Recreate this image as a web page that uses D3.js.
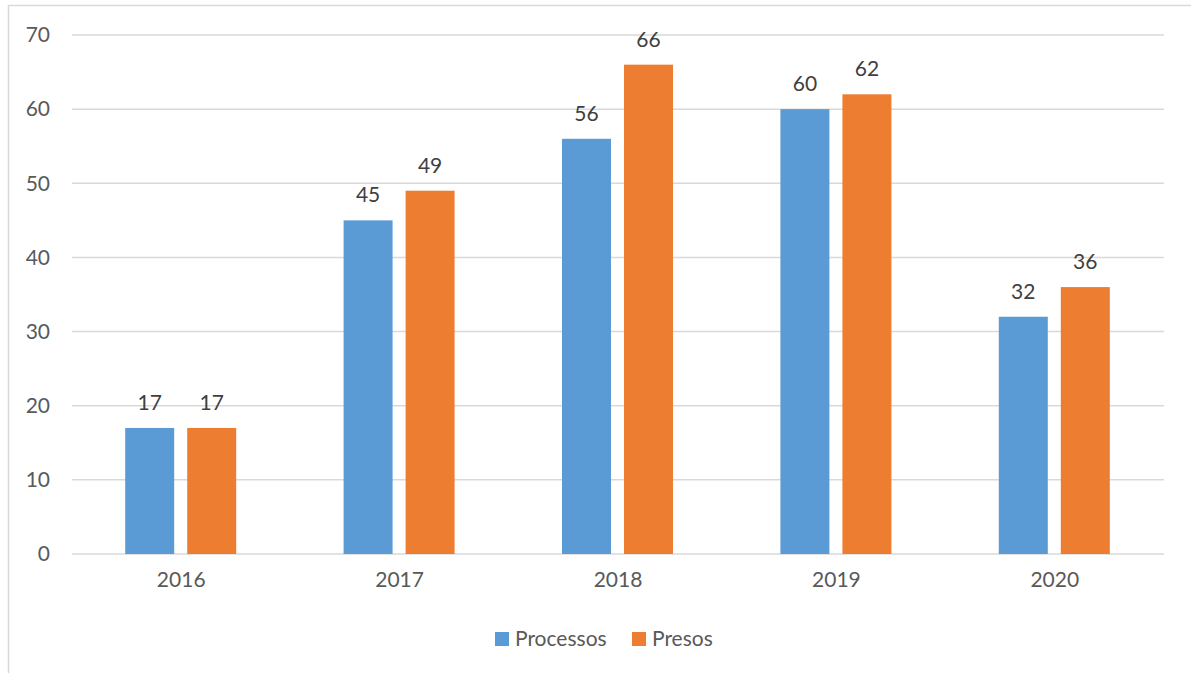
<!DOCTYPE html>
<html>
<head>
<meta charset="utf-8">
<script src="https://cdn.jsdelivr.net/npm/d3@7"></script>
<style>
  body { margin: 0; background: #fff; }
  svg { display: block; font-family: Lato, "Open Sans", sans-serif; }
</style>
</head>
<body>
<svg id="chart"></svg>
<script>
const years = ["2016", "2017", "2018", "2019", "2020"];
const processos = [17, 45, 56, 60, 32];
const presos = [17, 49, 66, 62, 36];
const seriesNames = ["Processos", "Presos"];
const yTicks = [0, 10, 20, 30, 40, 50, 60, 70];

const width = 1191, height = 673;
const margin = { top: 35, right: 27, bottom: 119, left: 72 };
const colors = ["#5B9BD5", "#ED7D31"];
const textColor = "#595959";
const fontSize = "21px";

const svg = d3.select("#chart").attr("width", width).attr("height", height);

// outer chart frame (right and bottom edges fall outside the window)
svg.append("rect")
  .attr("x", 8.5).attr("y", 5.5)
  .attr("width", 1200).attr("height", 700)
  .attr("fill", "none").attr("stroke", "#D9D9D9").attr("stroke-width", 1.5);

const x = d3.scaleBand()
  .domain(years)
  .range([margin.left, width - margin.right]);

const y = d3.scaleLinear()
  .domain([0, 70])
  .range([height - margin.bottom, margin.top]);

// gridlines
svg.append("g")
  .selectAll("line")
  .data(yTicks)
  .join("line")
  .attr("x1", margin.left).attr("x2", width - margin.right)
  .attr("y1", d => y(d)).attr("y2", d => y(d))
  .attr("stroke", "#D9D9D9").attr("stroke-width", 1.5);

// y axis labels
let yAxis = g => g
  .attr("transform", `translate(${margin.left},0)`)
  .call(d3.axisLeft(y).tickValues(yTicks).tickSize(0).tickPadding(22))
  .call(g => g.select(".domain").remove())
  .selectAll("text")
  .attr("fill", textColor)
  .style("font-size", fontSize)
  .style("font-family", "Lato, 'Open Sans', sans-serif");
svg.append("g").call(yAxis);

// x axis labels
let xAxis = g => g
  .attr("transform", `translate(0,${y(0)})`)
  .call(d3.axisBottom(x).tickSize(0).tickPadding(18))
  .call(g => g.select(".domain").remove())
  .selectAll("text")
  .attr("fill", textColor)
  .style("font-size", fontSize)
  .style("font-family", "Lato, 'Open Sans', sans-serif");
svg.append("g").call(xAxis);

const data = years.map((yr, i) => ({ year: yr, values: [processos[i], presos[i]] }));

// two bars per year, offset around the band centre
const inner = d3.scaleBand()
  .domain([0, 1])
  .range([-56, 55])
  .paddingInner(0.21)
  .paddingOuter(0);

const groups = svg.append("g")
  .selectAll("g")
  .data(data)
  .join("g")
  .attr("transform", d => `translate(${x(d.year) + x.bandwidth() / 2},0)`);

groups.selectAll("rect")
  .data(d => d.values)
  .join("rect")
  .attr("x", (d, i) => inner(i))
  .attr("width", inner.bandwidth())
  .attr("y", d => y(d))
  .attr("height", d => y(0) - y(d))
  .attr("fill", (d, i) => colors[i]);

groups.selectAll("text")
  .data(d => d.values)
  .join("text")
  .attr("x", (d, i) => inner(i) + inner.bandwidth() / 2)
  .attr("y", d => y(d) - 18)
  .attr("text-anchor", "middle")
  .attr("fill", "#404040")
  .style("font-size", fontSize)
  .text(d => d);

// legend
const legendItems = [
  { name: seriesNames[0], color: colors[0], x: 495 },
  { name: seriesNames[1], color: colors[1], x: 632 }
];
const legend = svg.append("g")
  .selectAll("g")
  .data(legendItems)
  .join("g")
  .attr("transform", d => `translate(${d.x},632)`);
legend.append("rect")
  .attr("width", 14).attr("height", 14)
  .attr("fill", d => d.color);
legend.append("text")
  .attr("x", 20).attr("y", 14)
  .attr("fill", textColor)
  .style("font-size", fontSize)
  .text(d => d.name);
</script>
</body>
</html>
